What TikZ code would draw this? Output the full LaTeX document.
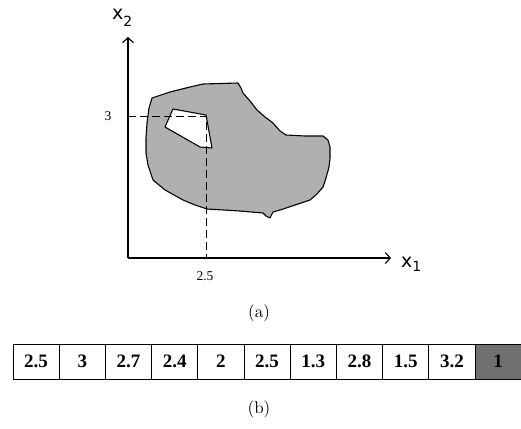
\documentclass[tikz,border=0pt]{standalone}
\usepackage{fontspec}
\newfontfamily\tnr{Liberation Serif}
\newfontfamily\axfont{DejaVu Sans}
\usetikzlibrary{arrows.meta}
\definecolor{RegionClr}{gray}{0.69}
\definecolor{LastClr}{gray}{0.44}

\begin{document}
\begin{tikzpicture}[x=1pt,y=-1pt,
  axis/.style={line width=1.1pt,-{Straight Barb[length=5pt,width=11pt]}},
  guide/.style={line width=0.9pt,dashed,dash pattern=on 8pt off 4pt},
  axlabel/.style={inner sep=0pt,anchor=base west,font=\axfont\fontsize{19}{20}\selectfont},
  ticklabel/.style={inner sep=0pt,font=\tnr\fontsize{13.5}{14}\selectfont},
  caption/.style={inner sep=0pt},
  cellbox/.style={draw,line width=0.9pt,minimum width=46.2pt,minimum height=35pt,inner sep=0pt,font=\tnr\bfseries\fontsize{19}{20}\selectfont}]
\useasboundingbox (0,0) rectangle (521,428);

\coordinate (O) at (128,258);
\coordinate (X) at (391,258);
\coordinate (Y) at (128,37);
\coordinate (p) at (206,116);
\coordinate (px) at (128,116);
\coordinate (py) at (206,258);

% region
\filldraw[fill=RegionClr,line width=1.1pt,line join=round]
  (152,98) -- (170,92) -- (190,87) -- (203,84) -- (238,83) -- (241,88) -- (243,93)
  -- (250,101) -- (257,110) -- (265,117) -- (273,123) -- (280,131) -- (286,135)
  -- (305,136) -- (323,136) -- (328,140) -- (330,147) -- (330,158) -- (329,167)
  -- (326,178) -- (323,187) -- (317,194) -- (310,200) -- (295,205) -- (280,210)
  -- (273,212) -- (270,218) -- (266,216) -- (263,213) -- (240,211) -- (207,209)
  -- (195,205) -- (183,200) -- (165,190) -- (153,180) -- (148,165) -- (146,153)
  -- (146,138) -- (147,123) -- (149,108) -- cycle;
\filldraw[fill=white,line width=1.1pt,line join=round]
  (173,109) -- (206,115) -- (212,148) -- (200,147) -- (165,127) -- cycle;

\draw[guide] (px) -- (p) -- (py);
\draw[axis] (O) -- (Y);
\draw[axis] (O) -- (X);

\node[axlabel] (lx1) at (401,267) {x\raisebox{-4pt}{\fontsize{14}{15}\selectfont 1}};
\node[axlabel] (lx2) at (112,20) {x\raisebox{-6pt}{\fontsize{14}{15}\selectfont 2}};
\node[ticklabel] (l3) at (108,116) {3};
\node[ticklabel] (l25) at (205,276) {2.5};
\node[caption] (capa) at (259,313) {\scalebox{1.7}{(a)}};

% string
\foreach \v [count=\i] in {2.5,3,2.7,2.4,2,2.5,1.3,2.8,1.5,3.2}
  \node[cellbox] (c\i) at ({13+46.2*(\i-0.5)},361.5) {\v};
\node[cellbox,fill=LastClr] (c11) at ({13+46.2*10.5},361.5) {1};
\draw[line width=1.6pt] (c1.south west) -- (c11.south east);

\node[caption] (capb) at (259,409) {\scalebox{1.7}{(b)}};
\end{tikzpicture}
\end{document}
